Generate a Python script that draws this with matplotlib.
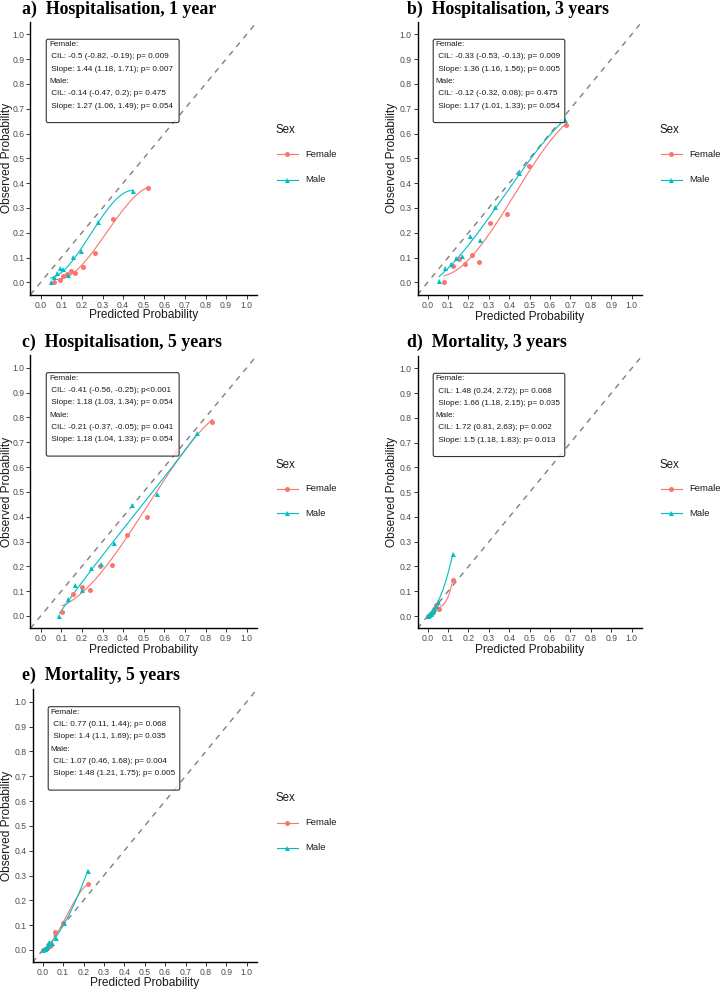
import numpy as np
import matplotlib
matplotlib.use("Agg")
import matplotlib.pyplot as plt
from matplotlib.lines import Line2D
from matplotlib.patches import FancyBboxPatch

plt.rcParams['font.family'] = ['Liberation Sans', 'DejaVu Sans']

# ---------------- data ----------------
panel_titles = ["a)  Hospitalisation, 1 year", "b)  Hospitalisation, 3 years",
                "c)  Hospitalisation, 5 years", "d)  Mortality, 3 years",
                "e)  Mortality, 5 years"]

# panel a
a_female_pred = [0.066, 0.094, 0.110, 0.126, 0.146, 0.168, 0.204, 0.264, 0.353, 0.523]
a_female_obs = [0.000, 0.009, 0.026, 0.034, 0.046, 0.036, 0.063, 0.117, 0.255, 0.382]
a_male_pred = [0.049, 0.065, 0.078, 0.094, 0.110, 0.133, 0.159, 0.196, 0.277, 0.450]
a_male_obs = [0.000, 0.023, 0.038, 0.059, 0.052, 0.031, 0.103, 0.126, 0.245, 0.370]

# panel b
b_female_pred = [0.080, 0.126, 0.155, 0.183, 0.216, 0.252, 0.306, 0.390, 0.498, 0.678]
b_female_obs = [0.000, 0.064, 0.092, 0.073, 0.109, 0.082, 0.240, 0.277, 0.469, 0.636]
b_male_pred = [0.056, 0.085, 0.113, 0.139, 0.168, 0.206, 0.255, 0.332, 0.448, 0.672]
b_male_obs = [0.007, 0.059, 0.074, 0.096, 0.105, 0.186, 0.172, 0.305, 0.439, 0.655]

# panel c
c_female_pred = [0.104, 0.159, 0.199, 0.241, 0.288, 0.345, 0.417, 0.516, 0.657, 0.833]
c_female_obs = [0.015, 0.090, 0.115, 0.106, 0.200, 0.205, 0.325, 0.397, 0.660, 0.781]
c_male_pred = [0.091, 0.131, 0.165, 0.202, 0.244, 0.293, 0.354, 0.443, 0.565, 0.759]
c_male_obs = [0.000, 0.070, 0.125, 0.106, 0.195, 0.208, 0.293, 0.446, 0.493, 0.737]

# panel d
d_female_pred = [0.003, 0.007, 0.011, 0.016, 0.020, 0.028, 0.031, 0.039, 0.056, 0.123]
d_female_obs = [0.000, 0.002, 0.004, 0.008, 0.011, 0.018, 0.027, 0.043, 0.027, 0.145]
d_male_pred = [0.002, 0.007, 0.011, 0.016, 0.020, 0.025, 0.031, 0.039, 0.051, 0.123]
d_male_obs = [0.000, 0.004, 0.011, 0.007, 0.015, 0.022, 0.030, 0.040, 0.058, 0.250]

# panel e
e_female_pred = [0.003, 0.011, 0.016, 0.020, 0.028, 0.034, 0.040, 0.062, 0.101, 0.221]
e_female_obs = [0.000, 0.003, 0.005, 0.008, 0.013, 0.015, 0.020, 0.074, 0.107, 0.266]
e_male_pred = [0.003, 0.011, 0.016, 0.020, 0.026, 0.031, 0.047, 0.065, 0.105, 0.221]
e_male_obs = [0.000, 0.004, 0.008, 0.011, 0.020, 0.030, 0.030, 0.050, 0.107, 0.320]

stats_a = ["Female:", " CIL: -0.5 (-0.82, -0.19); p= 0.009", " Slope: 1.44 (1.18, 1.71); p= 0.007",
           "Male:", " CIL: -0.14 (-0.47, 0.2); p= 0.475", " Slope: 1.27 (1.06, 1.49); p= 0.054"]
stats_b = ["Female:", " CIL: -0.33 (-0.53, -0.13); p= 0.009", " Slope: 1.36 (1.16, 1.56); p= 0.005",
           "Male:", " CIL: -0.12 (-0.32, 0.08); p= 0.475", " Slope: 1.17 (1.01, 1.33); p= 0.054"]
stats_c = ["Female:", " CIL: -0.41 (-0.56, -0.25); p<0.001", " Slope: 1.18 (1.03, 1.34); p= 0.054",
           "Male:", " CIL: -0.21 (-0.37, -0.05); p= 0.041", " Slope: 1.18 (1.04, 1.33); p= 0.054"]
stats_d = ["Female:", " CIL: 1.48 (0.24, 2.72); p= 0.068", " Slope: 1.66 (1.18, 2.15); p= 0.035",
           "Male:", " CIL: 1.72 (0.81, 2.63); p= 0.002", " Slope: 1.5 (1.18, 1.83); p= 0.013"]
stats_e = ["Female:", " CIL: 0.77 (0.11, 1.44); p= 0.068", " Slope: 1.4 (1.1, 1.69); p= 0.035",
           "Male:", " CIL: 1.07 (0.46, 1.68); p= 0.004", " Slope: 1.48 (1.21, 1.75); p= 0.005"]

series_names = ["Female", "Male"]
tick_values = [0.0, 0.1, 0.2, 0.3, 0.4, 0.5, 0.6, 0.7, 0.8, 0.9, 1.0]
tick_labels = ["0.0", "0.1", "0.2", "0.3", "0.4", "0.5", "0.6", "0.7", "0.8", "0.9", "1.0"]

# ---------------- style ----------------
COL_F = "#F8766D"
COL_M = "#00BFC4"
W, H = 722, 991


def smooth_fit(x, y, xg):
    # smooth calibration curve (cubic least-squares fit of the observed points)
    coef = np.polyfit(np.asarray(x, float), np.asarray(y, float), 3)
    return np.polyval(coef, xg)


fig = plt.figure(figsize=(W / 100, H / 100), dpi=100)
fig.patch.set_facecolor("white")


def px_axes(x0, x1, ytop, ybot):
    return fig.add_axes([x0 / W, 1 - ybot / H, (x1 - x0) / W, (ybot - ytop) / H])


panels = [
    dict(box=(30.4, 257.0, 21.9, 294.7), title_xy=(22, 9), data=(a_female_pred, a_female_obs, a_male_pred, a_male_obs),
         stats=stats_a, leg=(275, 130, 154.3, 179.7), xlab_y=315, ylab_x=7),
    dict(box=(417.5, 641.9, 21.9, 294.7), title_xy=(407, 9), data=(b_female_pred, b_female_obs, b_male_pred, b_male_obs),
         stats=stats_b, leg=(659, 130, 154.3, 179.7), xlab_y=316.7, ylab_x=392),
    dict(box=(30.4, 257.0, 355.3, 628.4), title_xy=(22, 342), data=(c_female_pred, c_female_obs, c_male_pred, c_male_obs),
         stats=stats_c, leg=(275, 465, 488.7, 513.3), xlab_y=650, ylab_x=7),
    dict(box=(417.5, 641.9, 356.0, 628.4), title_xy=(407, 342), data=(d_female_pred, d_female_obs, d_male_pred, d_male_obs),
         stats=stats_d, leg=(659, 465, 488.7, 513.3), xlab_y=650, ylab_x=392),
    dict(box=(32.5, 256.9, 689.3, 962.4), title_xy=(22, 675), data=(e_female_pred, e_female_obs, e_male_pred, e_male_obs),
         stats=stats_e, leg=(275, 798.3, 822.7, 847.7), xlab_y=983, ylab_x=7),
]

for title, p in zip(panel_titles, panels):
    x0, x1, yt, yb = p["box"]
    ax = px_axes(x0, x1, yt, yb)
    ax.set_xlim(-0.05, 1.05)
    ax.set_ylim(-0.05, 1.05)
    for s in ["top", "right"]:
        ax.spines[s].set_visible(False)
    for s in ["left", "bottom"]:
        ax.spines[s].set_color("black")
        ax.spines[s].set_linewidth(1.0)
    ax.set_xticks(tick_values)
    ax.set_xticklabels(tick_labels)
    ax.set_yticks(tick_values)
    ax.set_yticklabels(tick_labels)
    ax.tick_params(axis="both", length=2.7, width=0.7, color="#333333", labelsize=6.2,
                   labelcolor="#4D4D4D", pad=1.5)

    # reference line
    ax.plot([-0.05, 1.05], [-0.05, 1.05], ls=(0, (4, 4)), color="#7F7F7F", lw=1.0, zorder=1)

    fp, fo, mp, mo = p["data"]
    for xs, ys, col, mk in [(fp, fo, COL_F, "o"), (mp, mo, COL_M, "^")]:
        xs = np.asarray(xs)
        xg = np.linspace(xs.min(), xs.max(), 150)
        ax.plot(xg, smooth_fit(xs, ys, xg), color=col, lw=0.8, zorder=2)
        ax.plot(xs, ys, ls="none", marker=mk, ms=3.6, color=col, markeredgewidth=0, zorder=3)

    # stats box
    rect = FancyBboxPatch((0.027, 0.644), 0.645, 0.336, boxstyle="round,pad=0,rounding_size=0.008",
                          transform=ax.transData, facecolor=(1, 1, 1, 0.8), edgecolor="#333333",
                          linewidth=0.8, zorder=4)
    ax.add_patch(rect)
    for i, line in enumerate(p["stats"]):
        ax.text(0.040, 0.958 - i * 0.0495, line, fontsize=5.9, color="#1A1A1A",
                ha="left", va="center", zorder=5)

    # titles and axis labels
    tx, ty = p["title_xy"]
    fig.text(tx / W, 1 - ty / H, title, fontsize=12.8, fontweight="bold",
             family=["Liberation Serif", "DejaVu Serif"], ha="left", va="center")
    fig.text((x0 + x1) / 2 / W, 1 - p["xlab_y"] / H, "Predicted Probability", fontsize=8.6,
             ha="center", va="center", color="#1A1A1A")
    fig.text(p["ylab_x"] / W, 1 - (yt + yb) / 2 / H, "Observed Probability", fontsize=8.6,
             ha="center", va="center", rotation=90, color="#1A1A1A")

    # legend
    lx, ly_title, ly_f, ly_m = p["leg"]
    fig.text(lx / W, 1 - ly_title / H, "Sex", fontsize=8.3, ha="left", va="center", color="#1A1A1A")
    for name, yy, col, mk in [(series_names[0], ly_f, COL_F, "o"), (series_names[1], ly_m, COL_M, "^")]:
        fig.add_artist(Line2D([(lx + 1.7) / W, (lx + 22.7) / W], [1 - yy / H, 1 - yy / H],
                              color=col, lw=0.8, transform=fig.transFigure))
        fig.add_artist(Line2D([(lx + 12.2) / W], [1 - yy / H], marker=mk, ms=3.6, color=col,
                              markeredgewidth=0, ls="none", transform=fig.transFigure))
        fig.text((lx + 30) / W, 1 - yy / H, name, fontsize=6.8, ha="left", va="center", color="#1A1A1A")

fig.savefig("out.png", dpi=100, facecolor="white")
